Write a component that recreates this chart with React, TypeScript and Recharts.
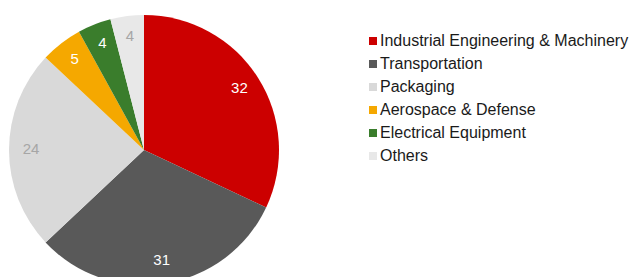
import React from "react";
import { PieChart, Pie, Cell, Legend } from "recharts";

const sectors = [
  "Industrial Engineering & Machinery",
  "Transportation",
  "Packaging",
  "Aerospace & Defense",
  "Electrical Equipment",
  "Others",
];
const shares = [32, 31, 24, 5, 4, 4];
const colors = ["#cc0000", "#595959", "#d9d9d9", "#f5a800", "#3a7d2c", "#e8e8e8"];
const labelColors = ["#ffffff", "#ffffff", "#a6a6a6", "#ffffff", "#ffffff", "#a6a6a6"];

const data = sectors.map((name, i) => ({ name, value: shares[i] }));

const RADIAN = Math.PI / 180;
const FONT = '"Liberation Sans", Arial, sans-serif';

// eslint-disable-next-line @typescript-eslint/no-explicit-any
function renderLabel(props: any) {
  const { cx, cy, midAngle, index, value } = props;
  const r = 113;
  const x = cx + r * Math.cos(-midAngle * RADIAN);
  const y = cy + r * Math.sin(-midAngle * RADIAN) - 2;
  return (
    <text
      x={x}
      y={y}
      fill={labelColors[index]}
      textAnchor="middle"
      dominantBaseline="central"
      fontSize={15}
      fontFamily={FONT}
    >
      {value}
    </text>
  );
}

function LegendList() {
  return (
    <div style={{ fontFamily: FONT, fontSize: 16, color: "#1a1a1a" }}>
      {sectors.map((s, i) => (
        <div key={s} style={{ display: "flex", alignItems: "center", height: 23 }}>
          <span style={{ width: 8, height: 8, background: colors[i], marginRight: 3, display: "inline-block" }} />
          <span>{s}</span>
        </div>
      ))}
    </div>
  );
}

export default function App() {
  return (
    <div style={{ position: "fixed", left: 0, top: 0, width: 630, height: 277, background: "#fff" }}>
      <PieChart width={630} height={277} margin={{ top: 0, right: 0, bottom: 0, left: 0 }}>
        <Pie
          data={data}
          dataKey="value"
          cx={144}
          cy={150}
          outerRadius={135}
          startAngle={90}
          endAngle={-270}
          stroke="none"
          label={renderLabel}
          labelLine={false}
          isAnimationActive={false}
        >
          {data.map((d, i) => (
            <Cell key={d.name} fill={colors[i]} />
          ))}
        </Pie>
        <Legend
          content={<LegendList />}
          wrapperStyle={{ position: "absolute", left: 369, top: 29, width: 261 }}
        />
      </PieChart>
    </div>
  );
}
